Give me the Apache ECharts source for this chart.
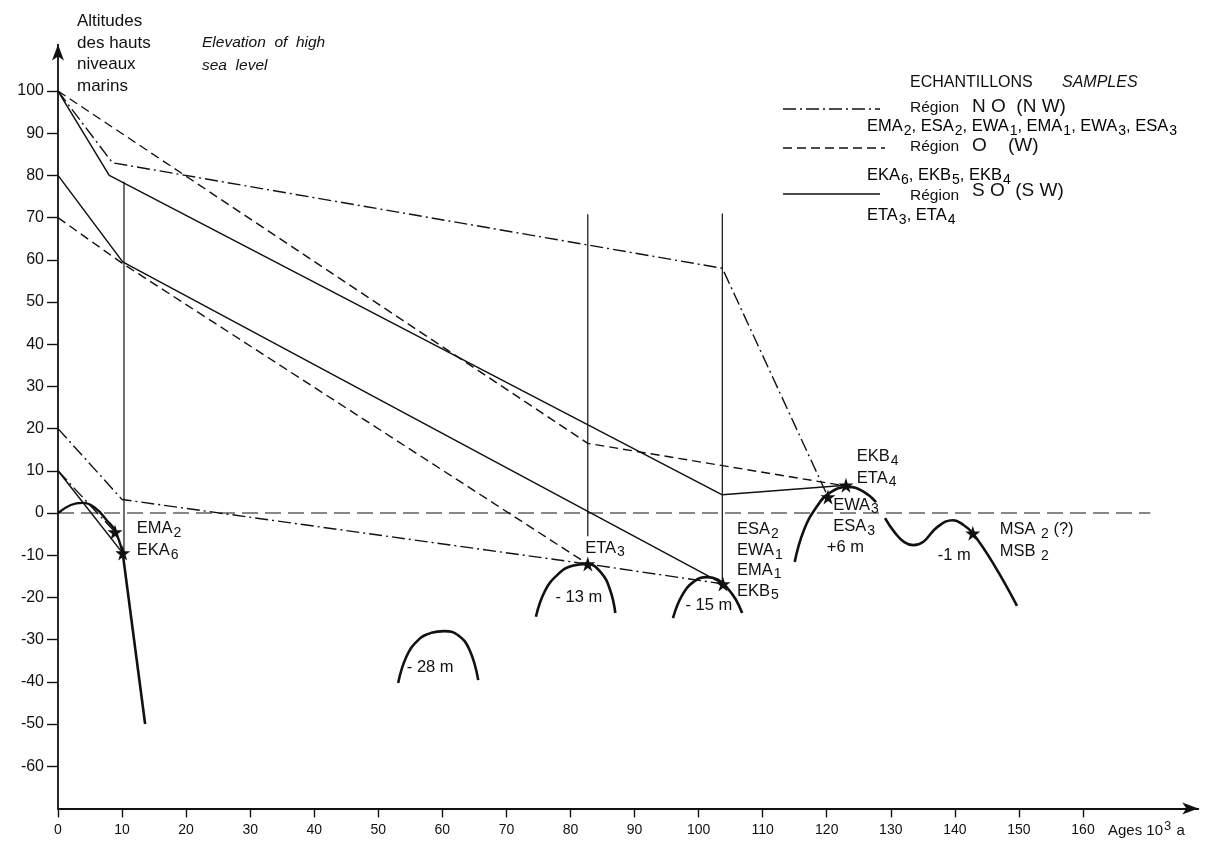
<!DOCTYPE html>
<html>
<head>
<meta charset="utf-8">
<title>Altitudes des hauts niveaux marins</title>
<script src="https://cdn.jsdelivr.net/npm/echarts@6/dist/echarts.min.js"></script>
<style>
  html, body { margin: 0; padding: 0; background: #fff; }
  #chart { width: 1209px; height: 842px; }
</style>
</head>
<body>
<div id="chart"></div>
<script>
// ---- Axis ticks -------------------------------------------------------
const xTicks = [0, 10, 20, 30, 40, 50, 60, 70, 80, 90, 100, 110, 120, 130, 140, 150, 160];
const yTicks = [-60, -50, -40, -30, -20, -10, 0, 10, 20, 30, 40, 50, 60, 70, 80, 90, 100];

// ---- Region NO (NW) : dash-dot correlation lines  [age ka, altitude m]
const noUpper = [[0, 100], [8.5, 83], [103.7, 58], [120.2, 3.8]];
const noLower = [[0, 20], [10, 3.2], [82.7, -12.1], [103.8, -16.8]];
const noShort = [[0, 10], [8.9, -4.5]];

// ---- Region O (W) : dashed correlation lines
const oUpper = [[0, 100], [82.7, 16.5], [123, 6.4]];
const oLower = [[0, 70], [10, 59.2], [82.7, -12.1]];

// ---- Region SO (SW) : solid correlation lines
const soUpper = [[0, 100], [8, 80], [103.7, 4.3], [123, 6.6]];
const soLower = [[0, 80], [10.1, 59.5], [103.8, -16.8]];
const soShort = [[0, 10], [10.1, -9.5]];

// ---- Vertical reference lines at the dated stages
const guide10 = [[10.3, 78.5], [10.3, -9.5]];
const guide83 = [[82.7, 70.8], [82.7, -5.5]];
const guide104 = [[103.7, 71], [103.7, -16.5]];

// ---- Present sea level
const zeroLine = [[0, 0], [170.5, 0]];

// ---- Sea-level curve (high stands)
const curveHolocene = [[0, 0], [2, 1.9], [3.8, 2.4], [5.8, 1.2], [7.6, -1.7], [8.9, -4.2], [10.1, -9.5]];
const curveHoloceneFall = [[10.1, -9.5], [13.6, -50]];
const curve28 = [[53.1, -40.3], [54.4, -34], [56.3, -30], [58.3, -28.4], [60.3, -28], [62.4, -28.9], [64.2, -32.3], [65.6, -39.6]];
const curve13 = [[74.6, -24.6], [76, -18.5], [78, -14.6], [80.3, -12.5], [82.7, -12.1], [84.8, -14.2], [86.2, -18.3], [87, -23.7]];
const curve15 = [[96, -24.9], [97.4, -19.6], [99.3, -16.2], [101.3, -15.2], [103, -15.8], [104.5, -17.8], [105.8, -20.5], [106.8, -23.7]];
const curve6 = [[115, -11.6], [116.4, -4.2], [118.4, 1.4], [120.4, 4.7], [123.3, 6.2], [125.6, 5.2], [127.7, 2.6]];
const curve1 = [[129.1, -1.2], [130.6, -4.6], [132.1, -6.9], [133.5, -7.6], [135.1, -6.8], [137.2, -3.4], [139.7, -1.7], [141.4, -2.9], [142.8, -4.8], [146, -12], [149.7, -22]];

// ---- Dated samples (stars)
const samples = [[8.9, -4.5], [10.1, -9.5], [82.7, -12.1], [103.8, -16.8], [120.2, 3.8], [123, 6.6], [142.8, -4.8]];

// ---- Text annotations: [age, altitude, text, anchor]
const notes = [
  [12.3, -3.6, '{t|EMA}{s|2}', 'left'],
  [12.3, -8.8, '{t|EKA}{s|6}', 'left'],
  [82.3, -8.3, '{t|ETA}{s|3}', 'left'],
  [81.3, -20.1, '{t|- 13 m}', 'center'],
  [101.6, -21.8, '{t|- 15 m}', 'center'],
  [58.1, -36.5, '{t|- 28 m}', 'center'],
  [106, -4.0, '{t|ESA}{s|2}', 'left'],
  [106, -8.8, '{t|EWA}{s|1}', 'left'],
  [106, -13.5, '{t|EMA}{s|1}', 'left'],
  [106, -18.5, '{t|EKB}{s|5}', 'left'],
  [124.7, 13.3, '{t|EKB}{s|4}', 'left'],
  [124.7, 8.3, '{t|ETA}{s|4}', 'left'],
  [121, 1.9, '{t|EWA}{s|3}', 'left'],
  [121, -3.3, '{t|ESA}{s|3}', 'left'],
  [120, -8.1, '{t|+6 m}', 'left'],
  [139.9, -10, '{t|-1 m}', 'center'],
  [147, -4, '{t|MSA }{s|2}{t| (?)}', 'left'],
  [147, -9.2, '{t|MSB }{s|2}', 'left']
];

const INK = '#111';
const FONT = '"Liberation Sans", Arial, sans-serif';
const NARROW = '"Liberation Sans Narrow", "Liberation Sans", Arial, sans-serif';
const DASH_DOT = [13, 4, 2, 4];
const DASH = [9, 5];

const richText = {
  t: { fontSize: 16.5, fontFamily: FONT, color: INK, lineHeight: 20, textBorderWidth: 0 },
  s: { fontSize: 14, fontFamily: FONT, color: INK, lineHeight: 20, padding: [9, 0, 0, 1], textBorderWidth: 0 }
};

function line(data, type, width, smooth) {
  return {
    type: 'line', data: data, symbol: 'none', smooth: smooth || false,
    silent: true, animation: false,
    lineStyle: { color: INK, width: width, type: type, opacity: 1 }
  };
}

const STAR = 'path://M50,0 L61,35 L98,35 L68,57 L79,91 L50,70 L21,91 L32,57 L2,35 L39,35 Z';

const series = [
  line(zeroLine, [16, 7], 1.2),
  line(guide10, 'solid', 1.2),
  line(guide83, 'solid', 1.2),
  line(guide104, 'solid', 1.2),
  line(noUpper, DASH_DOT, 1.4),
  line(noLower, DASH_DOT, 1.4),
  line(noShort, DASH_DOT, 1.4),
  line(oUpper, DASH, 1.4),
  line(oLower, DASH, 1.4),
  line(soUpper, 'solid', 1.5),
  line(soLower, 'solid', 1.5),
  line(soShort, 'solid', 1.5),
  line(curveHolocene, 'solid', 2.4, 0.45),
  line(curveHoloceneFall, 'solid', 2.6),
  line(curve28, 'solid', 2.6, 0.45),
  line(curve13, 'solid', 2.6, 0.45),
  line(curve15, 'solid', 2.6, 0.45),
  line(curve6, 'solid', 2.6, 0.45),
  line(curve1, 'solid', 2.6, 0.45),
  {
    type: 'scatter', data: samples, symbol: STAR, symbolSize: 15, silent: true,
    animation: false, itemStyle: { color: INK, opacity: 1 }
  },
  {
    type: 'scatter', silent: true, animation: false, symbolSize: 0,
    itemStyle: { color: INK, opacity: 1 },
    data: notes.map(n => ({
      value: [n[0], n[1]],
      label: {
        show: true, position: 'inside', formatter: n[2], rich: richText,
        color: INK, textBorderWidth: 0, textShadowBlur: 0,
        align: n[3], verticalAlign: 'middle'
      }
    }))
  }
];

const chart = echarts.init(document.getElementById('chart'), null, { renderer: 'canvas' });

chart.setOption({
  backgroundColor: '#fff',
  animation: false,
  grid: {
    left: 58, right: 10.7, top: 44.6, bottom: 33.6,
    containLabel: false, outerBoundsMode: 'none'
  },
  xAxis: {
    type: 'value', min: 0, max: 178,
    axisLine: { show: true, onZero: false, symbol: ['none', 'arrow'], symbolSize: [9, 16],
      lineStyle: { color: INK, width: 1.8 } },
    axisTick: { show: true, customValues: xTicks, length: 9, lineStyle: { color: INK, width: 1.4 } },
    axisLabel: { customValues: xTicks, margin: 15, fontSize: 14, color: INK, fontFamily: NARROW },
    splitLine: { show: false }
  },
  yAxis: {
    type: 'value', min: -70, max: 111,
    axisLine: { show: true, onZero: false, symbol: ['none', 'arrow'], symbolSize: [9, 16],
      lineStyle: { color: INK, width: 1.8 } },
    axisTick: { show: true, customValues: yTicks, length: 11, lineStyle: { color: INK, width: 1.4 } },
    axisLabel: { customValues: yTicks, margin: 14, fontSize: 16, color: INK, fontFamily: FONT },
    splitLine: { show: false }
  },
  graphic: [
    // axis titles
    { type: 'text', left: 77, top: 11, silent: true,
      style: { text: 'Altitudes\ndes hauts\nniveaux\nmarins', fontSize: 17, lineHeight: 21.5,
        fontFamily: FONT, fill: INK } },
    { type: 'text', left: 202, top: 31, silent: true,
      style: { text: 'Elevation  of  high\nsea  level', fontSize: 15.5, lineHeight: 23,
        fontStyle: 'italic', fontFamily: FONT, fill: INK } },
    { type: 'text', left: 1108, top: 817, silent: true,
      style: { text: '{t|Ages 10}{sup|3}{t| a}', fontFamily: FONT, fill: INK,
        rich: { t: { fontSize: 15, fontFamily: NARROW, lineHeight: 20, padding: [6, 0, 0, 0] },
                sup: { fontSize: 13, fontFamily: FONT, lineHeight: 20, padding: [0, 1, 2, 1] } } } },
    // legend heading
    { type: 'text', left: 910, top: 75, silent: true,
      style: { text: 'ECHANTILLONS', fontSize: 16, fontFamily: FONT, fill: INK } },
    { type: 'text', left: 1062, top: 75, silent: true,
      style: { text: 'SAMPLES', fontSize: 16, fontStyle: 'italic', fontFamily: FONT, fill: INK } },
    // legend: region NO
    { type: 'line', silent: true, shape: { x1: 783, y1: 109, x2: 880, y2: 109 },
      style: { stroke: INK, lineWidth: 1.4, lineDash: DASH_DOT } },
    { type: 'text', left: 910, top: 100, silent: true,
      style: { text: 'Région', fontSize: 15.5, fontFamily: FONT, fill: INK } },
    { type: 'text', left: 972, top: 97, silent: true,
      style: { text: 'N O  (N W)', fontSize: 19, fontFamily: FONT, fill: INK } },
    { type: 'text', left: 867, top: 115, silent: true,
      style: { text: '{t|EMA}{s|2}{t|, ESA}{s|2}{t|, EWA}{s|1}{t|, EMA}{s|1}{t|, EWA}{s|3}{t|, ESA}{s|3}', rich: richText } },
    // legend: region O
    { type: 'line', silent: true, shape: { x1: 783, y1: 148, x2: 885, y2: 148 },
      style: { stroke: INK, lineWidth: 1.4, lineDash: DASH } },
    { type: 'text', left: 910, top: 139, silent: true,
      style: { text: 'Région', fontSize: 15.5, fontFamily: FONT, fill: INK } },
    { type: 'text', left: 972, top: 136, silent: true,
      style: { text: 'O    (W)', fontSize: 19, fontFamily: FONT, fill: INK } },
    { type: 'text', left: 867, top: 164, silent: true,
      style: { text: '{t|EKA}{s|6}{t|, EKB}{s|5}{t|, EKB}{s|4}', rich: richText } },
    // legend: region SO
    { type: 'line', silent: true, shape: { x1: 783, y1: 194, x2: 880, y2: 194 },
      style: { stroke: INK, lineWidth: 1.5 } },
    { type: 'text', left: 910, top: 188, silent: true,
      style: { text: 'Région', fontSize: 15.5, fontFamily: FONT, fill: INK } },
    { type: 'text', left: 972, top: 181, silent: true,
      style: { text: 'S O  (S W)', fontSize: 19, fontFamily: FONT, fill: INK } },
    { type: 'text', left: 867, top: 204, silent: true,
      style: { text: '{t|ETA}{s|3}{t|, ETA}{s|4}', rich: richText } }
  ],
  series: series
});
</script>
</body>
</html>
